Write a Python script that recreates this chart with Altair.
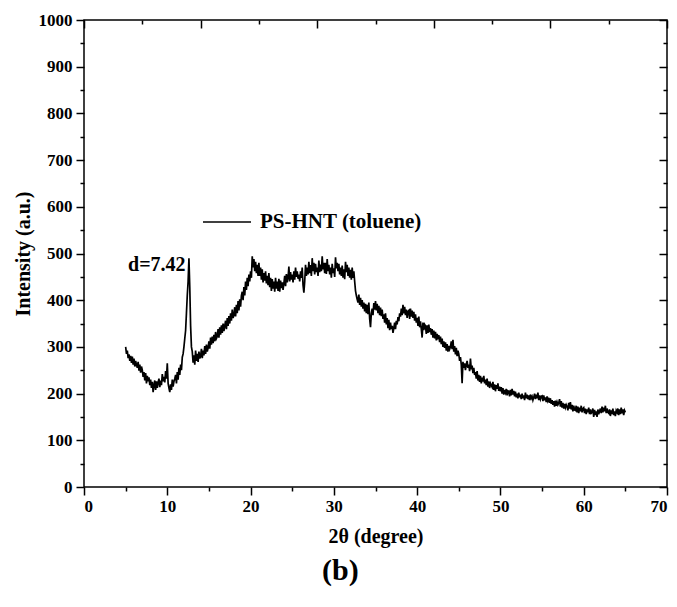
import altair as alt
import pandas as pd

# 2-theta scan grid (degrees), step 0.1 from 5 to 65
two_theta = [round(5 + 0.1 * i, 1) for i in range(601)]

intensity = [
    300, 285, 292, 276, 284, 270, 281, 266, 279, 262,   # 5
    275, 258, 270, 262, 255, 268, 249, 262, 245, 258,   # 6
    250, 236, 246, 228, 244, 222, 238, 226, 235, 218,   # 7
    230, 212, 225, 203, 218, 228, 208, 226, 212, 224,   # 8
    232, 214, 228, 218, 242, 226, 236, 224, 248, 232,   # 9
    265, 222, 212, 203, 220, 208, 230, 215, 226, 232,   # 10
    240, 222, 246, 230, 255, 240, 262, 250, 278, 285,   # 11
    300, 318, 335, 372, 410, 440, 490, 428, 345, 300,   # 12
    290, 266, 282, 262, 292, 270, 285, 268, 290, 275,   # 13
    280, 296, 276, 292, 282, 302, 285, 305, 290, 298,   # 14
    312, 296, 320, 305, 322, 308, 326, 312, 332, 318,   # 15
    322, 338, 320, 342, 326, 346, 330, 350, 334, 345,   # 16
    356, 338, 362, 345, 366, 350, 372, 356, 380, 362,   # 17
    368, 385, 365, 390, 372, 398, 378, 402, 386, 410,   # 18
    418, 400, 428, 410, 440, 422, 448, 430, 455, 440,   # 19
    462, 448, 494, 470, 488, 462, 482, 458, 476, 452,   # 20
    480, 452, 470, 444, 466, 438, 458, 442, 462, 436,   # 21
    452, 432, 458, 428, 448, 420, 445, 425, 440, 418,   # 22
    448, 425, 440, 420, 446, 418, 442, 426, 438, 422,   # 23
    436, 452, 430, 456, 438, 448, 472, 440, 460, 444,   # 24
    455, 438, 462, 444, 470, 450, 462, 446, 455, 440,   # 25
    462, 448, 470, 432, 416, 440, 476, 452, 470, 455,   # 26
    482, 458, 475, 452, 490, 462, 480, 455, 478, 460,   # 27
    470, 452, 485, 460, 476, 462, 494, 466, 480, 458,   # 28
    480, 456, 488, 462, 476, 455, 470, 448, 478, 458,   # 29
    468, 450, 492, 468, 480, 462, 478, 455, 470, 452,   # 30
    474, 448, 466, 445, 482, 460, 476, 452, 470, 448,   # 31
    465, 444, 470, 448, 462, 440, 420, 410, 402, 395,   # 32
    412, 390, 405, 386, 400, 382, 395, 376, 392, 372,   # 33
    390, 370, 395, 360, 342, 372, 382, 368, 394, 380,   # 34
    398, 378, 392, 372, 388, 368, 384, 366, 380, 360,   # 35
    370, 352, 372, 348, 362, 340, 358, 336, 352, 338,   # 36
    345, 330, 340, 352, 338, 356, 348, 364, 355, 372,   # 37
    365, 382, 368, 390, 372, 386, 368, 380, 362, 376,   # 38
    378, 360, 382, 365, 378, 362, 375, 356, 370, 352,   # 39
    362, 345, 365, 342, 355, 338, 320, 352, 336, 348,   # 40
    345, 328, 346, 330, 348, 332, 340, 326, 338, 320,   # 41
    335, 318, 332, 314, 328, 320, 325, 310, 322, 306,   # 42
    318, 300, 312, 298, 310, 292, 306, 290, 302, 295,   # 43
    300, 312, 295, 315, 290, 302, 284, 298, 280, 292,   # 44
    285, 270, 278, 262, 222, 268, 255, 265, 250, 262,   # 45
    270, 255, 262, 248, 275, 252, 260, 244, 255, 240,   # 46
    246, 232, 248, 228, 240, 225, 238, 222, 234, 226,   # 47
    238, 222, 230, 218, 232, 215, 226, 212, 222, 218,   # 48
    214, 225, 208, 220, 205, 218, 210, 222, 206, 215,   # 49
    205, 214, 200, 212, 198, 208, 202, 210, 196, 206,   # 50
    205, 194, 208, 196, 210, 198, 206, 194, 204, 192,   # 51
    200, 190, 202, 192, 198, 188, 200, 190, 196, 186,   # 52
    202, 190, 198, 188, 196, 186, 198, 190, 194, 186,   # 53
    192, 200, 188, 198, 190, 202, 186, 196, 188, 194,   # 54
    195, 184, 196, 186, 192, 182, 194, 184, 188, 180,   # 55
    190, 178, 186, 176, 184, 172, 185, 174, 182, 176,   # 56
    180, 188, 172, 184, 170, 180, 168, 178, 170, 176,   # 57
    172, 164, 180, 168, 182, 166, 176, 162, 174, 165,   # 58
    164, 174, 160, 172, 158, 170, 162, 174, 160, 168,   # 59
    170, 158, 168, 156, 166, 160, 170, 156, 166, 158,   # 60
    160, 168, 150, 165, 154, 162, 150, 166, 156, 162,   # 61
    168, 158, 172, 160, 170, 162, 174, 158, 168, 160,   # 62
    158, 166, 152, 164, 156, 168, 154, 162, 152, 164,   # 63
    160, 168, 154, 166, 156, 170, 158, 166, 154, 164,   # 64
    160,                                                # 65
]

series_name = "PS-HNT (toluene)"

x_major = [0, 10, 20, 30, 40, 50, 60, 70]
x_minor = [5, 15, 25, 35, 45, 55, 65]
top_major = [0, 14, 28, 42, 56, 70]
top_minor = [7, 21, 35, 49, 63]
y_major = [0, 100, 200, 300, 400, 500, 600, 700, 800, 900, 1000]
y_minor = [50, 150, 250, 350, 450, 550, 650, 750, 850, 950]

peak_label = ["d=7.42"]
peak_x = [12.2]
peak_y = [475]

FONT = "Liberation Serif"

df = pd.DataFrame({"two_theta": two_theta, "intensity": intensity,
                   "series": [series_name] * len(two_theta)})
ann = pd.DataFrame({"x": peak_x, "y": peak_y, "label": peak_label})

xs = alt.Scale(domain=[0, 70], nice=False, zero=False)
ys = alt.Scale(domain=[0, 1000], nice=False, zero=False)

base_axis = dict(grid=False, domain=False, tickColor="black", tickWidth=1.5,
                 labelFont=FONT, labelFontSize=17, labelFontWeight="bold",
                 labelColor="black", titleFont=FONT, titleFontSize=20,
                 titleFontWeight="bold", titleColor="black", format="d")

line = alt.Chart(df).mark_line(strokeWidth=1.7).encode(
    x=alt.X("two_theta:Q", scale=xs,
            axis=alt.Axis(values=x_major, orient="bottom", title="2θ (degree)",
                          tickSize=8, labelPadding=3, titlePadding=12, **base_axis)),
    y=alt.Y("intensity:Q", scale=ys,
            axis=alt.Axis(values=y_major, orient="left", title="Intensity (a.u.)",
                          tickSize=8, labelPadding=4, titlePadding=5, **base_axis)),
    color=alt.Color("series:N", scale=alt.Scale(range=["black"]),
                    legend=alt.Legend(title=None, orient="none", legendX=118, legendY=177,
                                      symbolType="stroke", symbolSize=2304,
                                      symbolStrokeWidth=1.3, labelOffset=8,
                                      labelFont=FONT, labelFontSize=21,
                                      labelFontWeight="bold", labelColor="black",
                                      labelLimit=0, padding=0)),
)

minor = alt.Chart(df).mark_line(strokeOpacity=0).encode(
    x=alt.X("two_theta:Q", scale=xs,
            axis=alt.Axis(values=x_minor, orient="bottom", title=None, labels=False,
                          tickSize=4, **base_axis)),
    y=alt.Y("intensity:Q", scale=ys,
            axis=alt.Axis(values=y_minor, orient="left", title=None, labels=False,
                          tickSize=4, **base_axis)),
)

mirror_major = alt.Chart(df).mark_line(strokeOpacity=0).encode(
    x=alt.X("two_theta:Q", scale=xs,
            axis=alt.Axis(values=top_major, orient="top", title=None, labels=False,
                          tickSize=8, offset=-8, **base_axis)),
    y=alt.Y("intensity:Q", scale=ys,
            axis=alt.Axis(values=y_major, orient="right", title=None, labels=False,
                          tickSize=8, offset=-8, **base_axis)),
)

mirror_minor = alt.Chart(df).mark_line(strokeOpacity=0).encode(
    x=alt.X("two_theta:Q", scale=xs,
            axis=alt.Axis(values=top_minor, orient="top", title=None, labels=False,
                          tickSize=4, offset=-4, **base_axis)),
    y=alt.Y("intensity:Q", scale=ys,
            axis=alt.Axis(values=y_minor, orient="right", title=None, labels=False,
                          tickSize=4, offset=-4, **base_axis)),
)

text = alt.Chart(ann).mark_text(align="right", baseline="middle", font=FONT,
                                fontSize=20, fontWeight="bold", color="black").encode(
    x=alt.X("x:Q", scale=xs, axis=None),
    y=alt.Y("y:Q", scale=ys, axis=None),
    text="label:N",
)

chart = alt.layer(line, minor, mirror_major, mirror_minor, text).resolve_scale(
    x="independent", y="independent"
).properties(
    width=583, height=467,
    background="white",
    autosize=alt.AutoSizeParams(type="none"),
    padding={"left": 84, "top": 20, "right": 10, "bottom": 120},
    title=alt.TitleParams(text="(b)", orient="bottom", anchor="middle", frame="bounds",
                          font=FONT, fontSize=30, fontWeight="bold", color="black",
                          offset=10),
).configure_view(
    stroke="black", strokeWidth=1.5
)

chart.save("out.html", embed_options={"renderer": "svg", "actions": False})
